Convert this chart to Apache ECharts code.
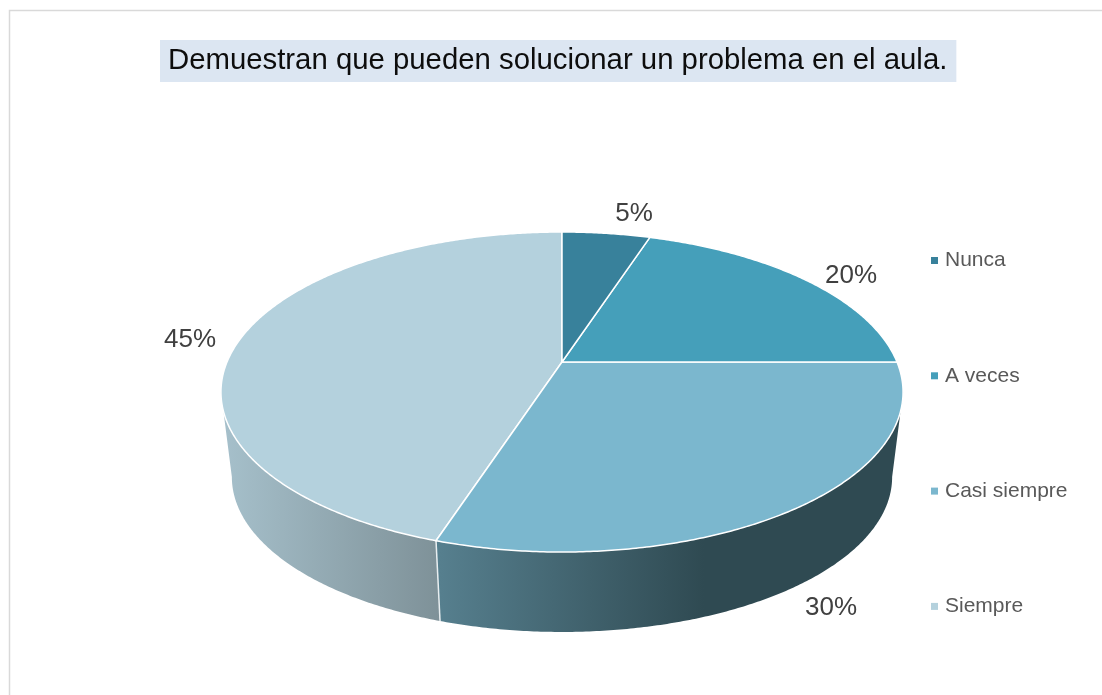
<!DOCTYPE html>
<html>
<head>
<meta charset="utf-8">
<style>html,body{margin:0;padding:0;background:#fff}#c{width:1102px;height:695px}</style>
<script src="https://cdn.jsdelivr.net/npm/echarts@6/dist/echarts.min.js"></script>
</head>
<body>
<div id="c"></div>
<script>
var titleText = 'Demuestran que pueden solucionar un problema en el aula.';
var categories = ['Nunca', 'A veces', 'Casi siempre', 'Siempre'];
var values = [5, 20, 30, 45];
var colors = ['#38819b', '#459fba', '#7bb7ce', '#b4d1dd'];

// Perspective layout of the disc
var CX = 562, CY = 362, A = 335, B = 154.4, K = -0.1875;
var DEPTH = 86, SHRINK = 0.968;
var VISIBLE_FROM = 100.8, VISIBLE_TO = 259.2;
var LABEL_POS = [[634, 214], [851, 276], [831, 608], [190, 340]];
var WALL_FILL = [null, null,
  [[0, '#567f8e'], [0.57, '#2f4a52'], [1, '#2f4a52']],
  [[0, '#a6c0cb'], [1, '#7e9198']]];
var WALL_X = [null, null, [440, 903], [222, 440]];

var total = values.reduce(function (a, b) { return a + b; }, 0);

function project(deg, lower) {
  var t = deg * Math.PI / 180, u = Math.sin(t), v = -Math.cos(t), d = 1 + K * v;
  var x = A * u / d, y = B * v / d;
  if (lower) return [CX + x * SHRINK, CY + DEPTH + y * SHRINK];
  return [CX + x, CY + y];
}
function arc(from, to, lower) {
  var pts = [], n = Math.max(2, Math.ceil(Math.abs(to - from) * 2));
  for (var i = 0; i <= n; i++) pts.push(project(from + (to - from) * i / n, lower));
  return pts;
}
function makeRender(idx) {
  return function (params, api) {
    var before = values.slice(0, idx).reduce(function (a, b) { return a + b; }, 0);
    var val = api.value(0);
    var start = before / total * 360, end = (before + val) / total * 360;
    var children = [];
    var a = Math.max(start, VISIBLE_FROM), b = Math.min(end, VISIBLE_TO);
    if (b > a && WALL_FILL[idx]) {
      children.push({
        type: 'polygon',
        shape: { points: arc(a, b, false).concat(arc(b, a, true)) },
        style: { fill: { type: 'linear', global: true, x: WALL_X[idx][0], y: 0, x2: WALL_X[idx][1], y2: 0,
          colorStops: WALL_FILL[idx].map(function (s) { return { offset: s[0], color: s[1] }; }) } }
      });
    }
    if (idx === 2) {
      var e = project(end, false), f = project(end, true);
      children.push({ type: 'line', z2: 5, shape: { x1: e[0], y1: e[1], x2: f[0], y2: f[1] },
        style: { stroke: '#e8eef0', lineWidth: 1.5 } });
    }
    children.push({
      type: 'polygon', z2: 10,
      shape: { points: [[CX, CY]].concat(arc(start, end, false)) },
      style: { fill: api.visual('color'), stroke: '#ffffff', lineWidth: 1.5, lineJoin: 'round' }
    });
    children.push({
      type: 'text', z2: 20, x: LABEL_POS[idx][0], y: LABEL_POS[idx][1],
      style: { text: val + '%', fill: '#404040', fontSize: 26, fontFamily: 'Liberation Sans',
        align: 'center', verticalAlign: 'middle' }
    });
    return { type: 'group', children: children };
  };
}

var chart = echarts.init(document.getElementById('c'), null, { renderer: 'canvas' });
chart.setOption({
  animation: false,
  backgroundColor: '#ffffff',
  title: {
    text: titleText, left: 160, top: 40,
    padding: [5, 9, 6, 8],
    backgroundColor: '#dce6f2',
    textStyle: { color: '#0d0d0d', fontSize: 29.33, fontWeight: 'normal', fontFamily: 'Liberation Sans', lineHeight: 31 }
  },
  legend: {
    orient: 'vertical', left: 931, top: 250, padding: 0,
    data: categories, icon: 'rect', itemWidth: 7, itemHeight: 7, itemGap: 94.3,
    selectedMode: false,
    textStyle: { color: '#595959', fontSize: 21, fontFamily: 'Liberation Sans', padding: [0, 0, 0, 2] }
  },
  graphic: [
    { type: 'polyline', silent: true, z: -1,
      shape: { points: [[9.5, 700], [9.5, 10.5], [1110, 10.5]] },
      style: { fill: 'none', stroke: '#d9d9d9', lineWidth: 1.5 } }
  ],
  series: [3, 2, 1, 0].map(function (i) {
    return {
      type: 'custom', name: categories[i], coordinateSystem: 'none',
      renderItem: makeRender(i), data: [[values[i]]],
      itemStyle: { color: colors[i] }, silent: true
    };
  })
});
</script>
</body>
</html>
